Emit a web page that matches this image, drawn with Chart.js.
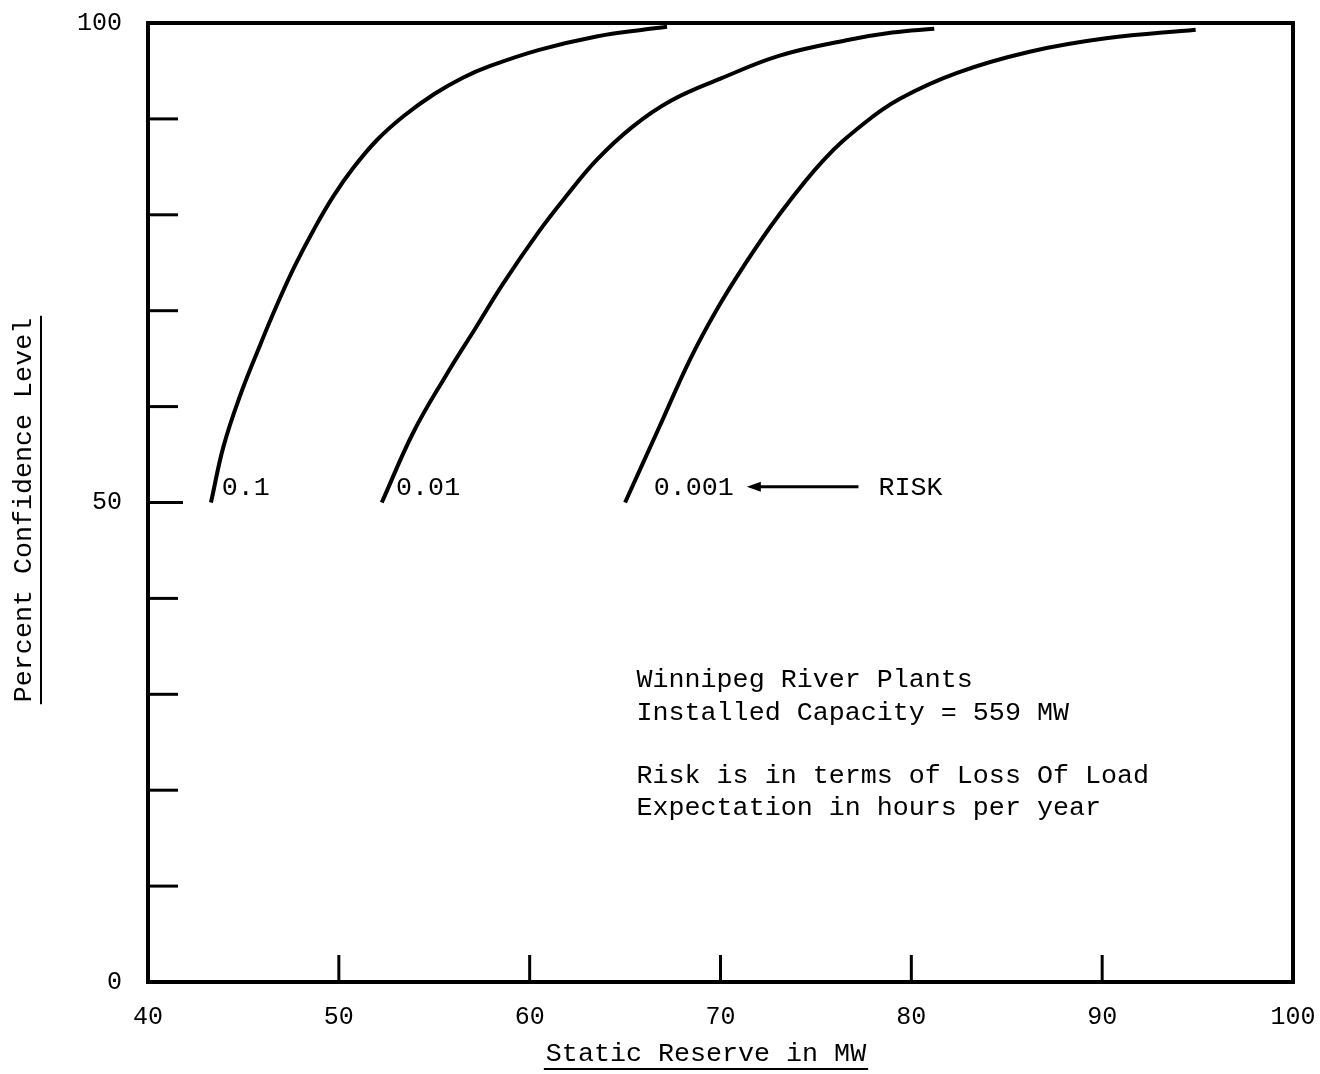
<!DOCTYPE html>
<html>
<head>
<meta charset="utf-8">
<script src="https://cdn.jsdelivr.net/npm/chart.js@4.4.1/dist/chart.umd.min.js"></script>
<style>
  html, body { margin: 0; padding: 0; background: #fff; }
  #wrap { width: 1320px; height: 1074px; }
</style>
</head>
<body>
<div id="wrap"><canvas id="riskChart" width="1320" height="1074"></canvas></div>
<script>
// curve data (static reserve in MW, percent confidence)
const riskLabels = ['0.1', '0.01', '0.001'];

const reserveRisk1 = [43.3, 43.95, 44.8, 45.85, 46.8, 47.7, 48.7, 49.7, 50.8, 52.0, 53.4, 55.0, 56.5, 57.9, 60.5, 63.5, 66.1, 67.2];
const confRisk1    = [50.0, 55.8, 61.0, 66.3, 70.8, 74.7, 78.5, 81.9, 85.0, 87.8, 90.3, 92.6, 94.3, 95.5, 97.2, 98.6, 99.35, 99.6];

const reserveRisk2 = [52.25, 53.9, 55.6, 57.2, 58.6, 60.5, 61.9, 63.5, 65.4, 67.4, 70.0, 73.1, 76.6, 79.0, 81.2];
const confRisk2    = [50.0, 57.3, 63.2, 68.3, 72.8, 78.3, 81.9, 85.7, 89.2, 91.9, 94.2, 96.6, 98.2, 99.0, 99.4];

const reserveRisk3 = [65.0, 66.8, 68.4, 69.8, 71.2, 73.0, 75.4, 77.5, 79.4, 82.4, 86.2, 90.2, 94.9];
const confRisk3    = [50.0, 57.9, 64.9, 70.1, 74.6, 79.8, 85.7, 89.5, 92.1, 94.8, 97.0, 98.4, 99.3];

// where the risk labels sit (data coords)
const labelReserve = [43.86, 53.0, 66.5];
const labelConf = [51.5, 51.5, 51.5];

// axis ticks
const xTickLabels = [40, 50, 60, 70, 80, 90, 100];
const yTickLabels = [0, 50, 100];
const xMinorTicks = [50, 60, 70, 80, 90];
const yMinorTicks = [10, 20, 30, 40, 50, 60, 70, 80, 90];

const FONT = '"Liberation Mono", "DejaVu Sans Mono", monospace';

function toPoints(xs, ys) {
  return xs.map((x, i) => ({ x: x, y: ys[i] }));
}

const curveStyle = {
  borderColor: '#000',
  borderWidth: 4,
  pointRadius: 0,
  showLine: true,
  fill: false,
  tension: 0.4
};

// frame, inner ticks, labels and notes
const decorPlugin = {
  id: 'decor',
  afterDraw(chart) {
    const ctx = chart.ctx;
    const area = chart.chartArea;
    const xs = chart.scales.x;
    const ys = chart.scales.y;
    ctx.save();
    ctx.strokeStyle = '#000';
    ctx.fillStyle = '#000';

    // frame
    ctx.lineWidth = 4;
    ctx.strokeRect(area.left, area.top, area.right - area.left, area.bottom - area.top);

    // inner ticks
    ctx.lineWidth = 3;
    yMinorTicks.forEach(v => {
      const py = ys.getPixelForValue(v);
      ctx.beginPath();
      ctx.moveTo(area.left, py);
      ctx.lineTo(area.left + (v === 50 ? 35 : 30), py);
      ctx.stroke();
    });
    xMinorTicks.forEach(v => {
      const px = xs.getPixelForValue(v);
      ctx.beginPath();
      ctx.moveTo(px, area.bottom);
      ctx.lineTo(px, area.bottom - 27);
      ctx.stroke();
    });

    // risk labels
    ctx.font = '26.7px ' + FONT;
    ctx.textBaseline = 'middle';
    ctx.textAlign = 'left';
    riskLabels.forEach((t, i) => {
      ctx.fillText(t, xs.getPixelForValue(labelReserve[i]), ys.getPixelForValue(labelConf[i]));
    });

    // arrow pointing at 0.001 plus RISK
    const ay = ys.getPixelForValue(51.65);
    const ax0 = xs.getPixelForValue(71.38);
    const ax1 = xs.getPixelForValue(77.23);
    ctx.lineWidth = 3;
    ctx.beginPath();
    ctx.moveTo(ax0 + 8, ay);
    ctx.lineTo(ax1, ay);
    ctx.stroke();
    ctx.beginPath();
    ctx.moveTo(ax0, ay);
    ctx.lineTo(ax0 + 14, ay - 5);
    ctx.lineTo(ax0 + 14, ay + 5);
    ctx.closePath();
    ctx.fill();
    ctx.fillText('RISK', xs.getPixelForValue(78.28), ys.getPixelForValue(51.5));

    // notes
    const nx = xs.getPixelForValue(65.6);
    ctx.fillText('Winnipeg River Plants', nx, 680);
    ctx.fillText('Installed Capacity = 559 MW', nx, 713);
    ctx.fillText('Risk is in terms of Loss Of Load', nx, 776);
    ctx.fillText('Expectation in hours per year', nx, 808);

    // axis titles with underline
    ctx.textAlign = 'center';
    ctx.textBaseline = 'alphabetic';
    const xt = 'Static Reserve in MW';
    const xtx = 706, xty = 1061;
    ctx.fillText(xt, xtx, xty);
    const xw = ctx.measureText(xt).width;
    ctx.lineWidth = 2;
    ctx.beginPath();
    ctx.moveTo(xtx - xw / 2 - 2, xty + 8);
    ctx.lineTo(xtx + xw / 2 + 2, xty + 8);
    ctx.stroke();

    const yt = 'Percent Confidence Level';
    ctx.translate(31, 510);
    ctx.rotate(-Math.PI / 2);
    ctx.fillText(yt, 0, 0);
    const yw = ctx.measureText(yt).width;
    ctx.beginPath();
    ctx.moveTo(-yw / 2 - 2, 10);
    ctx.lineTo(yw / 2 + 2, 10);
    ctx.stroke();

    ctx.restore();
  }
};

const ctx = document.getElementById('riskChart').getContext('2d');
const riskChart = new Chart(ctx, {
  type: 'scatter',
  data: {
    datasets: [
      Object.assign({ label: riskLabels[0], data: toPoints(reserveRisk1, confRisk1) }, curveStyle),
      Object.assign({ label: riskLabels[1], data: toPoints(reserveRisk2, confRisk2) }, curveStyle),
      Object.assign({ label: riskLabels[2], data: toPoints(reserveRisk3, confRisk3) }, curveStyle)
    ]
  },
  options: {
    responsive: false,
    animation: false,
    devicePixelRatio: 1,
    layout: { padding: { top: 23, right: 27, left: 0, bottom: 0 } },
    plugins: {
      legend: { display: false },
      tooltip: { enabled: false }
    },
    scales: {
      x: {
        type: 'linear',
        min: 40,
        max: 100,
        afterBuildTicks(scale) { scale.ticks = xTickLabels.map(v => ({ value: v })); },
        afterFit(scale) {
          scale.height = 92;
          scale.paddingLeft = 0;
          scale.paddingRight = 0;
        },
        ticks: { color: '#000', padding: 20, font: { family: FONT, size: 25 }, maxRotation: 0 },
        grid: { display: false, drawTicks: false },
        border: { display: false }
      },
      y: {
        min: 0,
        max: 100,
        afterBuildTicks(scale) { scale.ticks = yTickLabels.map(v => ({ value: v })); },
        afterFit(scale) {
          scale.width = 148;
          scale.paddingTop = 0;
          scale.paddingBottom = 0;
        },
        ticks: { color: '#000', padding: 26, font: { family: FONT, size: 25 } },
        grid: { display: false, drawTicks: false },
        border: { display: false }
      }
    }
  },
  plugins: [decorPlugin]
});
</script>
</body>
</html>
